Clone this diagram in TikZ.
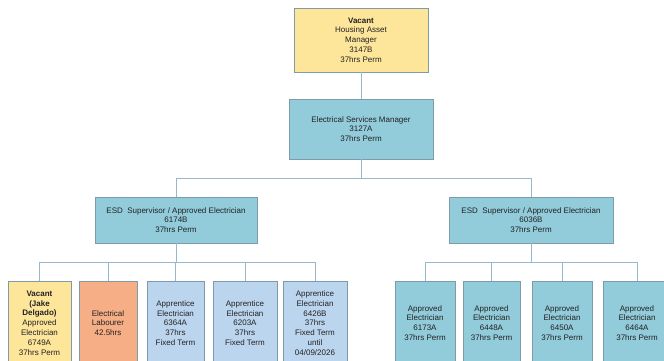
\documentclass[tikz,border=0pt]{standalone}
\usepackage{fontspec}
\setmainfont{Liberation Sans}
\begin{document}
\begin{tikzpicture}[x=1pt,y=-1pt,
  box/.style={draw=boxline,line width=0.6pt,rectangle,inner sep=1pt,align=center,
    text=txt,font=\fontsize{8}{9.8}\selectfont},
  yel/.style={box,fill=yelfill},
  teal/.style={box,fill=tealfill},
  lblue/.style={box,fill=bluefill},
  orng/.style={box,fill=orfill},
  bot/.style={minimum height=84pt},
  conn/.style={draw=connline,line width=0.8pt}]
\definecolor{yelfill}{HTML}{FDE59A}
\definecolor{tealfill}{HTML}{92CBDA}
\definecolor{bluefill}{HTML}{BCD5EE}
\definecolor{orfill}{HTML}{F5AE86}
\definecolor{boxline}{HTML}{7E9BAA}
\definecolor{connline}{HTML}{9AB8CC}
\definecolor{txt}{HTML}{222222}
\useasboundingbox (0,0) rectangle (664,361);
\begin{scope}
\clip (0,0) rectangle (664,361);
\node[yel,minimum width=134pt,minimum height=64pt] (top) at (361,40)
  {\textbf{Vacant}\\Housing Asset\\Manager\\3147B\\37hrs Perm};
\node[teal,minimum width=144pt,minimum height=60pt] (mgr) at (361,129)
  {Electrical Services Manager\\3127A\\37hrs Perm};
\node[teal,minimum width=162pt,minimum height=46pt] (supL) at (176,220)
  {ESD\ \ Supervisor / Approved Electrician\\6174B\\37hrs Perm};
\node[teal,minimum width=164pt,minimum height=46pt] (supR) at (531,220)
  {ESD\ \ Supervisor / Approved Electrician\\6036B\\37hrs Perm};
% left team
\node[yel,bot,minimum width=63pt] (b1) at (39.5,323)
  {\textbf{Vacant}\\\textbf{(Jake}\\\textbf{Delgado)}\\Approved\\Electrician\\6749A\\37hrs Perm};
\node[orng,bot,minimum width=58pt] (b2) at (108,323)
  {Electrical\\Labourer\\42.5hrs};
\node[lblue,bot,minimum width=57pt] (b3) at (175.5,323)
  {Apprentice\\Electrician\\6364A\\37hrs\\Fixed Term};
\node[lblue,bot,minimum width=64pt] (b4) at (245,323)
  {Apprentice\\Electrician\\6203A\\37hrs\\Fixed Term};
\node[lblue,bot,minimum width=64pt] (b5) at (315,323)
  {Apprentice\\Electrician\\6426B\\37hrs\\Fixed Term\\until\\04/09/2026};
% right team
\node[teal,bot,minimum width=60pt] (b6) at (425,323)
  {Approved\\Electrician\\6173A\\37hrs Perm};
\node[teal,bot,minimum width=57pt] (b7) at (491.5,323)
  {Approved\\Electrician\\6448A\\37hrs Perm};
\node[teal,bot,minimum width=60pt] (b8) at (562,323)
  {Approved\\Electrician\\6450A\\37hrs Perm};
\node[teal,bot,minimum width=68pt] (b9) at (637,323)
  {Approved\\Electrician\\6464A\\37hrs Perm};
% connectors
\coordinate (bus0) at (361,178);
\coordinate (busL) at (176,262);
\coordinate (busR) at (531,262);
\draw[conn] (top.south) -- (mgr.north);
\draw[conn] (mgr.south) -- (bus0);
\draw[conn] (bus0) -| (supL.north);
\draw[conn] (bus0) -| (supR.north);
\draw[conn] (supL.south) -- (busL);
\foreach \n in {b1,b2,b3,b4,b5} \draw[conn] (busL) -| (\n.north);
\draw[conn] (supR.south) -- (busR);
\foreach \n in {b6,b7,b8,b9} \draw[conn] (busR) -| (\n.north);
\end{scope}
\end{tikzpicture}
\end{document}
